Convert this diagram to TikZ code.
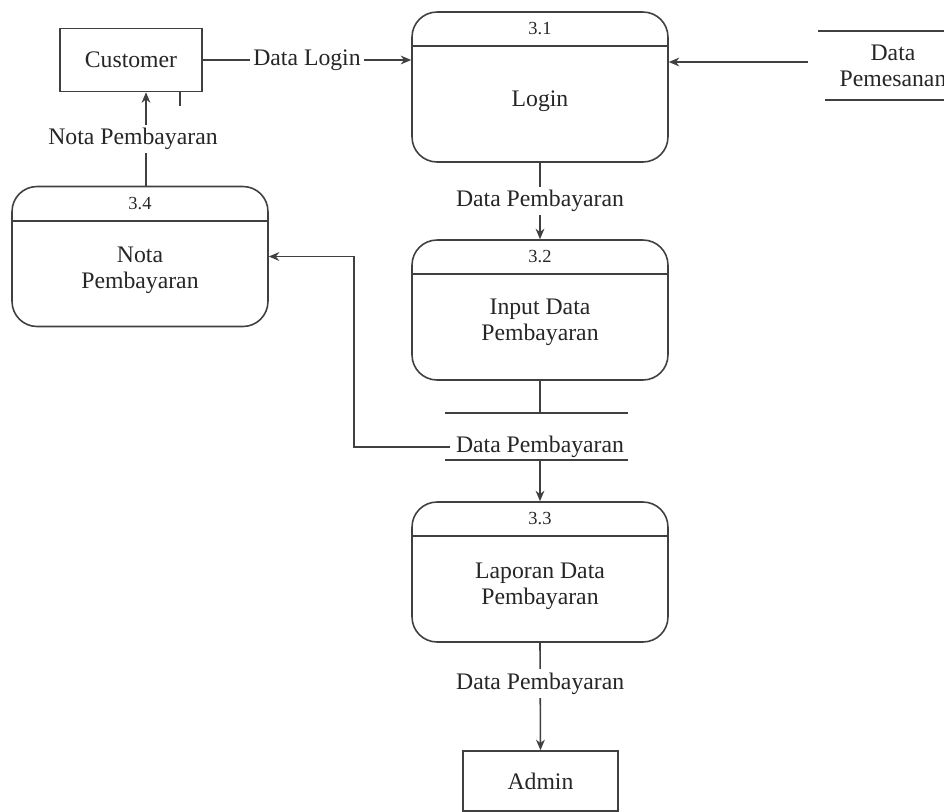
\documentclass[tikz,border=0pt]{standalone}
\usepackage{fontspec}
\setmainfont{Liberation Serif}
\usetikzlibrary{positioning,arrows.meta,calc}

\begin{document}
\begin{tikzpicture}[
    x=0.02cm, y=-0.02cm,
    every node/.style={font=\fontsize{13.5}{15}\selectfont, text=black!85},
    ext/.style={draw=black!75, line width=0.9pt, minimum width=2.84cm, minimum height=1.26cm},
    proc/.style={draw=black!75, line width=0.9pt, rounded corners=0.5cm, minimum width=5.12cm, minimum height=2.8cm},
    procno/.style={font=\fontsize{10.5}{12}\selectfont},
    flow/.style={draw=black!75, line width=0.9pt},
    lbl/.style={fill=white, inner sep=2pt},
    >={Stealth[length=6pt,width=5pt]}
  ]
    \useasboundingbox (0,0) rectangle (944,812);

    % external entities
    \node[ext] (cust) at (131,60) {Customer};
    \node[ext, minimum width=3.1cm, minimum height=1.2cm] (admin) at (540.5,781) {Admin};

    % processes
    \node[proc, minimum height=3cm] (p31) at (540,87) {};
    \node[proc] (p32) at (540,310) {};
    \node[proc] (p33) at (540,572) {};
    \node[proc] (p34) at (140,256.5) {};
    \foreach \p/\n in {p31/3.1,p32/3.2,p33/3.3,p34/3.4}{
      \draw[flow] ($(\p.north west)+(0,35)$) -- ($(\p.north east)+(0,35)$);
      \node[procno] (\p_no) at ($(\p.north)+(0,17.5)$) {\n};
    }
    \node[align=center] (p31_name) at ($(p31.center)+(0,14)$) {Login};
    \node[align=center] (p32_name) at ($(p32.center)+(0,12)$) {Input Data\\Pembayaran};
    \node[align=center] (p33_name) at ($(p33.center)+(0,14)$) {Laporan Data\\Pembayaran};
    \node[align=center] (p34_name) at ($(p34.center)+(0,14)$) {Nota\\Pembayaran};

    % data stores
    \node[align=center] (ds_pesan) at (893,66) {Data\\Pemesanan};
    \draw[flow] (818,31) -- (944,31);
    \draw[flow] (825,100) -- (944,100);
    \node (ds_bayar) at (540,447) {Data Pembayaran};
    \draw[flow] (445,413) -- (628,413);
    \draw[flow] (445,460) -- (628,460);
    \coordinate (ds_bayar_top) at (540,413);
    \coordinate (ds_bayar_bot) at (540,460);
    \coordinate (ds_pesan_in) at (808,62);
    \coordinate (cust_tick) at (180,106);

    % flows
    \draw[flow,->] (cust.east) -- node[lbl] {Data Login} (cust.east -| p31.west);
    \draw[flow,->] (ds_pesan_in) -- (ds_pesan_in -| p31.east);
    \draw[flow,->] (p31.south) -- node[lbl] {Data Pembayaran} (p32.north);
    \draw[flow] (p32.south) -- (ds_bayar_top);
    \draw[flow,->] (ds_bayar_bot) -- (p33.north);
    \draw[flow,->] (ds_bayar.west) -- ++(-96,0) |- (p34.east);
    \draw[flow,->] ([xshift=0.12cm]p34.north) -- node[lbl, xshift=-0.26cm] {Nota Pembayaran} ([xshift=0.12cm]p34.north |- cust.south);
    \draw[flow,->] (p33.south) -- node[lbl, pos=0.38] {Data Pembayaran} (admin.north);
    \draw[flow] (cust.south -| cust_tick) -- (cust_tick);
  \end{tikzpicture}
\end{document}
